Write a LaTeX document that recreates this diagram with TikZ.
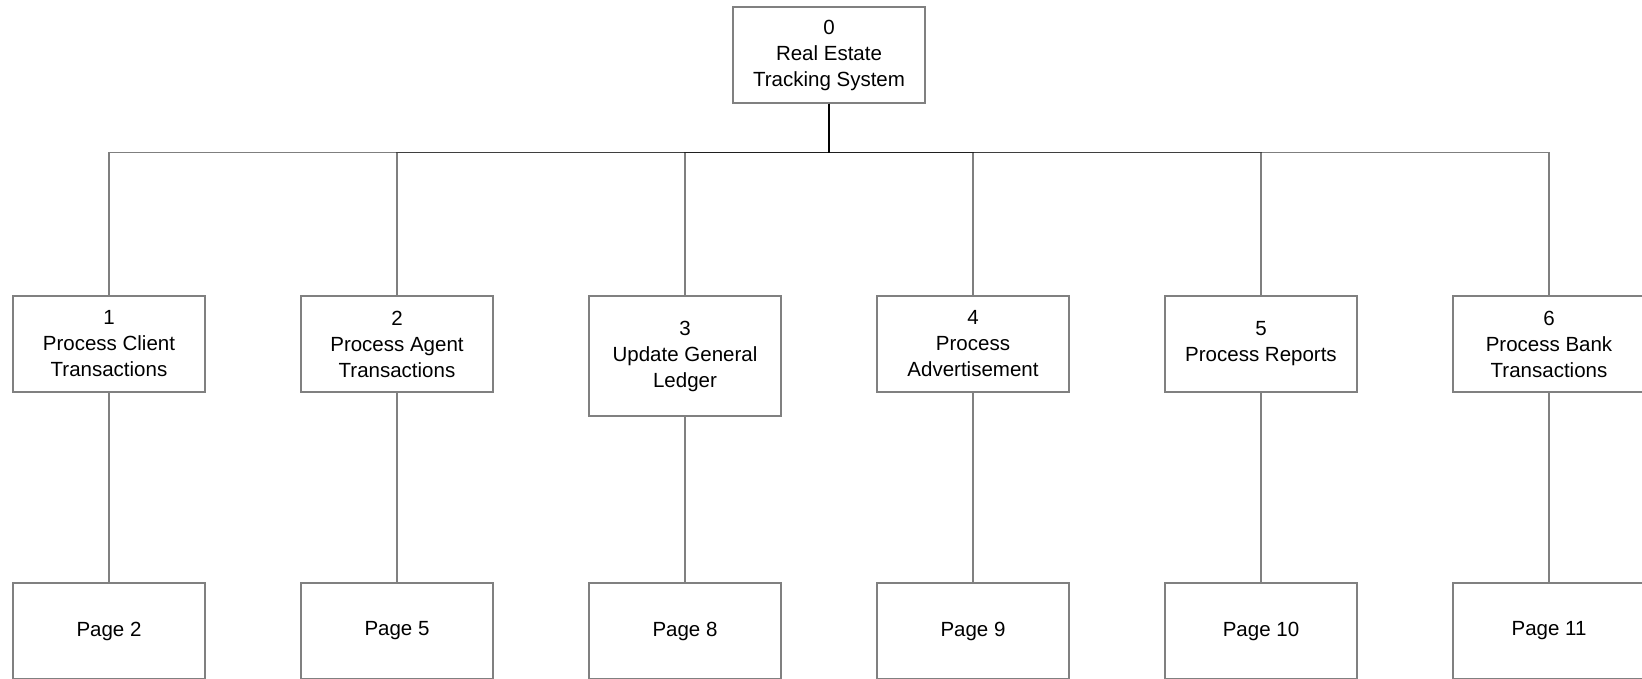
\documentclass[tikz,border=0pt]{standalone}
\usepackage{fontspec}
\setmainfont{Liberation Sans}
\begin{document}
\begin{tikzpicture}[x=1pt,y=-1pt,
  box/.style={draw=black!50, line width=1.1pt, rectangle, inner sep=0pt,
    minimum width=192pt, minimum height=96pt, align=center,
    font=\fontsize{20.5}{26}\selectfont},
  tallbox/.style={box, minimum height=120pt},
  edge/.style={draw=black, draw opacity=0.5, line width=1.3pt},
  link/.style={draw=black!50, line width=1.1pt}]
  \useasboundingbox (0,0) rectangle (1642,679);

  % root of the hierarchy
  \node[box] (root) at (829,55) {0\\Real Estate\\Tracking System};

  % level 1 processes
  \node[box] (n1) at (109,344) {1\\Process Client\\Transactions};
  \node[box] (n2) at (397,344) {2\\Process Agent\\Transactions};
  \node[tallbox] (n3) at (685,356) {3\\Update General\\Ledger};
  \node[box] (n4) at (973,344) {4\\Process\\Advertisement};
  \node[box] (n5) at (1261,344) {5\\Process Reports};
  \node[box] (n6) at (1549,344) {6\\Process Bank\\Transactions};

  % page references
  \node[box] (p1) at (109,631) {Page 2};
  \node[box] (p2) at (397,631) {Page 5};
  \node[box] (p3) at (685,631) {Page 8};
  \node[box] (p4) at (973,631) {Page 9};
  \node[box] (p5) at (1261,631) {Page 10};
  \node[box] (p6) at (1549,631) {Page 11};

  % orthogonal connectors from the root, sharing one bus
  \foreach \k in {1,...,6}{
    \draw[edge] (root.south) -- ++(0,49) -| (n\k.north);
    \draw[link] (n\k.south) -- (p\k.north);
  }
\end{tikzpicture}
\end{document}
